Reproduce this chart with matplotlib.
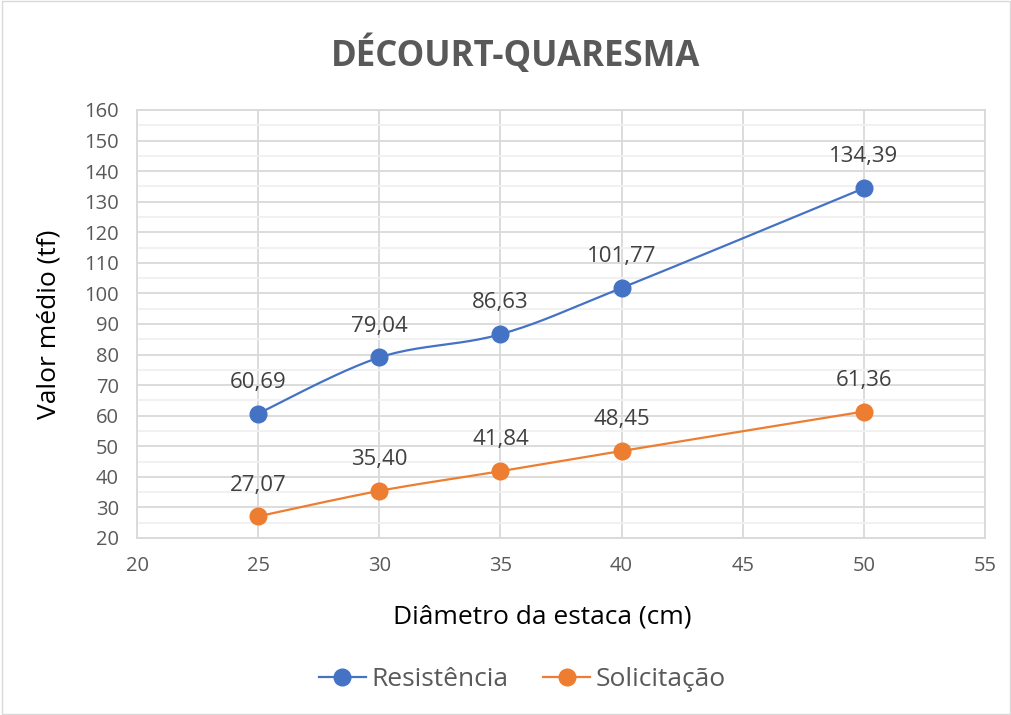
import numpy as np
import matplotlib
import matplotlib.pyplot as plt
from matplotlib.ticker import MultipleLocator
from matplotlib.patches import Rectangle

matplotlib.rcParams['font.family'] = ['Open Sans', 'DejaVu Sans']

# Data
diametros = [25, 30, 35, 40, 50]
resistencia = [60.69, 79.04, 86.63, 101.77, 134.39]
solicitacao = [27.07, 35.40, 41.84, 48.45, 61.36]

titulo = 'DÉCOURT-QUARESMA'
xlabel = 'Diâmetro da estaca (cm)'
ylabel = 'Valor médio (tf)'
series_names = ['Resistência', 'Solicitação']

blue = '#4472C4'
orange = '#ED7D31'
text_gray = '#595959'
grid_gray = '#D9D9D9'


def smooth(x, y, n=40):
    # Excel-like smoothing (Catmull-Rom bezier)
    x = np.asarray(x, float)
    y = np.asarray(y, float)
    px = np.concatenate([[x[0]], x, [x[-1]]])
    py = np.concatenate([[y[0]], y, [y[-1]]])
    xs, ys = [], []
    t = np.linspace(0, 1, n)
    for i in range(1, len(px) - 2):
        p0 = np.array([px[i], py[i]])
        p3 = np.array([px[i + 1], py[i + 1]])
        c1 = p0 + (np.array([px[i + 1], py[i + 1]]) - np.array([px[i - 1], py[i - 1]])) / 6
        c2 = p3 - (np.array([px[i + 2], py[i + 2]]) - np.array([px[i], py[i]])) / 6
        b = ((1 - t) ** 3)[:, None] * p0 + (3 * (1 - t) ** 2 * t)[:, None] * c1 \
            + (3 * (1 - t) * t ** 2)[:, None] * c2 + (t ** 3)[:, None] * p3
        xs.extend(b[:, 0])
        ys.extend(b[:, 1])
    return xs, ys


fig = plt.figure(figsize=(10.12, 7.15), dpi=100)
fig.patch.set_facecolor('white')
fig.patches.append(Rectangle((0.002, 0.002), 0.996, 0.996, transform=fig.transFigure,
                             fill=False, edgecolor='#D9D9D9', lw=1))
ax = fig.add_axes([0.1354, 0.2476, 0.8379, 0.5986])

ax.set_xlim(20, 55)
ax.set_ylim(20, 160)
ax.xaxis.set_major_locator(MultipleLocator(5))
ax.yaxis.set_major_locator(MultipleLocator(10))
ax.yaxis.set_minor_locator(MultipleLocator(5))
ax.grid(which='major', color=grid_gray, lw=1.3)
ax.grid(which='minor', axis='y', color='#F0F0F0', lw=1.3)
ax.set_axisbelow(True)
for s in ax.spines.values():
    s.set_color(grid_gray)
    s.set_linewidth(1.3)
ax.tick_params(axis='both', which='both', length=0, labelsize=14.5, colors=text_gray)
ax.tick_params(axis='x', pad=13)
ax.tick_params(axis='y', pad=13)

for y, c, name in zip([resistencia, solicitacao], [blue, orange], series_names):
    sx, sy = smooth(diametros, y)
    ax.plot(sx, sy, color=c, lw=1.6, zorder=3)
    ax.plot(diametros, y, 'o', color=c, ms=12, mec=c, zorder=4)
    ax.plot([], [], '-o', color=c, ms=12, lw=1.6, label=name)
    for xi, yi in zip(diametros, y):
        ax.annotate(f'{yi:.2f}'.replace('.', ','), (xi, yi), xytext=(0, 15),
                    textcoords='offset points', ha='center', va='bottom',
                    fontsize=16, color='#404040')

ax.set_xlabel(xlabel, fontsize=19, color='black', labelpad=18)
ax.xaxis.set_label_coords(0.478, -0.155)
ax.set_ylabel(ylabel, fontsize=19, color='black', labelpad=16)
fig.text(0.509, 0.923, titulo, ha='center', va='center', fontsize=25,
         fontweight='bold', color=text_gray)

fig.legend(loc='center', bbox_to_anchor=(0.516, 0.05), ncol=2, frameon=False,
           fontsize=19, labelcolor=text_gray, handlelength=1.8, columnspacing=1.3,
           handletextpad=0.2)

plt.savefig('out.png', dpi=100)
